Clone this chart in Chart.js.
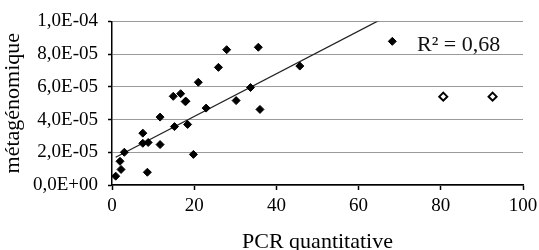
<!DOCTYPE html>
<html>
<head>
<meta charset="utf-8">
<script src="https://cdn.jsdelivr.net/npm/chart.js@4/dist/chart.umd.min.js"></script>
<style>
  html, body { margin: 0; padding: 0; background: #fff; }
  #wrap { width: 539px; height: 250px; }
</style>
</head>
<body>
<div id="wrap"><canvas id="chart" width="539" height="250"></canvas></div>
<script>
// qPCR (x) vs metagenomic abundance (y), filled points
const pcrValues = [0.9, 2.2, 1.95, 3.0, 7.5, 7.5, 8.8, 8.6, 11.7, 11.7, 15.2, 18.4, 19.8, 17.8, 22.9,
                   27.9, 25.9, 21.0, 14.9, 16.7, 18.0, 30.2, 33.7, 35.6, 45.7, 36.0, 68.2];
const metaValues = [0.54e-5, 0.95e-5, 1.45e-5, 2.0e-5, 3.17e-5, 2.55e-5, 2.6e-5, 0.78e-5, 4.15e-5, 2.47e-5,
                    3.57e-5, 3.7e-5, 1.87e-5, 5.1e-5, 4.7e-5, 8.27e-5, 7.19e-5, 6.28e-5, 5.42e-5, 5.58e-5,
                    5.12e-5, 5.16e-5, 5.96e-5, 8.42e-5, 7.27e-5, 4.62e-5, 8.78e-5];
// points left out of the fit (open diamonds)
const outlierPcr = [80.6, 92.6];
const outlierMeta = [5.4e-5, 5.4e-5];
// linear trend as drawn on the figure
const trendSlope = 1.305e-6;
const trendIntercept = 1.58e-5;
const rSquaredLabel = 'R² = 0,68';
const xTicks = [0, 20, 40, 60, 80, 100];
const yTicks = [0, 2e-5, 4e-5, 6e-5, 8e-5, 1e-4];

const serif = '"Liberation Serif", "Times New Roman", serif';

const mainPoints = pcrValues.map((x, i) => ({ x: x, y: metaValues[i] }));
const openPoints = outlierPcr.map((x, i) => ({ x: x, y: outlierMeta[i] }));
const xMin = Math.min(...pcrValues);
const xMax = Math.max(...pcrValues);
const trendPoints = [xMin, xMax].map(x => ({ x: x, y: trendIntercept + trendSlope * x }));

function sciLabel(v) {
    const parts = Math.abs(v) < 1e-12 ? ['0.0', '+0'] : Number(v).toExponential(1).split('e');
    const mant = parts[0].replace('.', ',');
    const sign = parts[1][0] === '-' ? '-' : '+';
    const exp = parts[1].replace(/[+-]/, '').padStart(2, '0');
    return mant + 'E' + sign + exp;
}

const rLabelPlugin = {
    id: 'rLabel',
    afterDatasetsDraw(chart) {
        const ctx = chart.ctx;
        const x = chart.scales.x.getPixelForValue(74.2);
        const y = chart.scales.y.getPixelForValue(8.55e-5);
        ctx.save();
        ctx.font = '22px ' + serif;
        ctx.fillStyle = '#111';
        ctx.textAlign = 'left';
        ctx.textBaseline = 'middle';
        ctx.fillText(rSquaredLabel, x, y);
        ctx.restore();
    }
};

new Chart(document.getElementById('chart'), {
    type: 'scatter',
    data: {
        datasets: [
            {
                label: 'trend',
                type: 'line',
                data: trendPoints,
                borderColor: '#222',
                borderWidth: 1.3,
                pointRadius: 0,
                fill: false,
                order: 2
            },
            {
                label: 'points',
                data: mainPoints,
                pointStyle: 'rectRot',
                pointRadius: 4,
                backgroundColor: '#000',
                borderColor: '#000',
                borderWidth: 1,
                order: 1
            },
            {
                label: 'outliers',
                data: openPoints,
                pointStyle: 'rectRot',
                pointRadius: 4,
                backgroundColor: '#fff',
                borderColor: '#000',
                borderWidth: 2,
                order: 1
            }
        ]
    },
    options: {
        responsive: false,
        animation: false,
        layout: { padding: { left: 0, right: 16, top: 19, bottom: 0 } },
        plugins: {
            legend: { display: false },
            tooltip: { enabled: false }
        },
        scales: {
            x: {
                type: 'linear',
                min: 0,
                max: 100,
                afterBuildTicks: s => { s.ticks = xTicks.map(v => ({ value: v })); },
                afterFit: s => {
                    s.height = 65;
                    s.paddingRight = 0;
                    s.paddingLeft = 0;
                },
                ticks: {
                    color: '#000',
                    font: { family: serif, size: 19 },
                    padding: 5,
                    maxRotation: 0
                },
                grid: {
                    drawOnChartArea: false,
                    drawTicks: true,
                    tickLength: 5,
                    tickColor: '#000',
                    tickWidth: 1.5
                },
                border: { color: '#000', width: 1.5 },
                title: {
                    display: true,
                    text: 'PCR quantitative',
                    color: '#000',
                    font: { family: serif, size: 22, lineHeight: 1 },
                    padding: { top: 0, bottom: -3 }
                }
            },
            y: {
                type: 'linear',
                min: 0,
                max: 1e-4,
                afterBuildTicks: s => { s.ticks = yTicks.map(v => ({ value: v })); },
                afterFit: s => { s.width = 112; },
                ticks: {
                    color: '#000',
                    font: { family: serif, size: 19 },
                    padding: 10,
                    callback: v => sciLabel(v)
                },
                grid: {
                    color: '#9a9a9a',
                    lineWidth: 1,
                    borderDash: [1, 5],
                    drawTicks: true,
                    tickLength: 4,
                    tickColor: '#000',
                    tickWidth: 1.5,
                    tickBorderDash: []
                },
                border: { color: '#000', width: 1.5 },
                title: {
                    display: true,
                    text: 'métagénomique',
                    color: '#000',
                    font: { family: serif, size: 22, lineHeight: 1 },
                    padding: { top: 2, bottom: 0 }
                }
            }
        }
    },
    plugins: [rLabelPlugin]
});
</script>
</body>
</html>
